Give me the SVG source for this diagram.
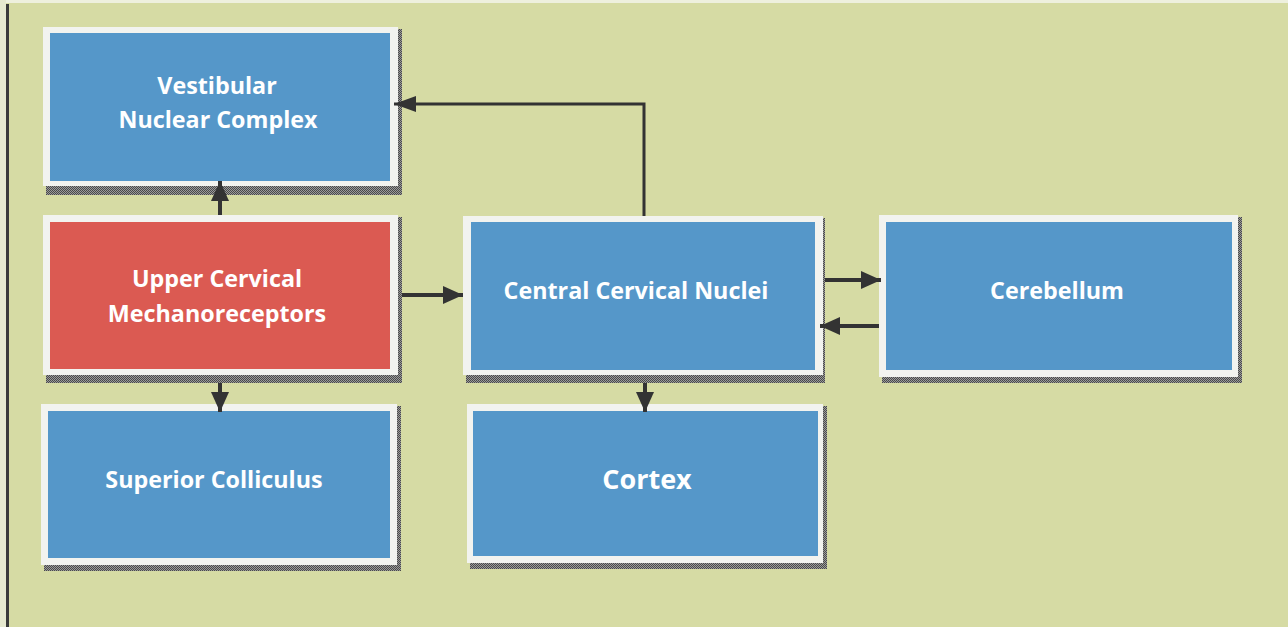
<svg xmlns="http://www.w3.org/2000/svg" width="1288" height="627" viewBox="0 0 1288 627">
<defs>
<style>
.bg{fill:#d6dba4}
.sh{fill:url(#hatch)}
.frame{fill:#f2f3ef}
.blue{fill:#5597c9}
.red{fill:#db5a52}
.lbl{font-family:"Open Sans","Noto Sans","Liberation Sans",sans-serif;font-weight:700;font-size:23.3px;fill:#ffffff;text-anchor:middle}
.big{font-size:27px}
.con{fill:none;stroke:#333333;stroke-width:4}
.thin{stroke-width:3}
</style>
<pattern id="hatch" width="2" height="2" patternUnits="userSpaceOnUse">
<rect width="2" height="2" fill="#9a9a9a"/>
<rect width="1" height="1" fill="#4a4a4a"/>
<rect x="1" y="1" width="1" height="1" fill="#4a4a4a"/>
</pattern>
<marker id="ah" markerUnits="userSpaceOnUse" markerWidth="20" markerHeight="18" refX="20" refY="9" orient="auto">
<path d="M0,0 L20,9 L0,18 Z" fill="#333333"/>
</marker>
<marker id="ahs" markerUnits="userSpaceOnUse" markerWidth="22" markerHeight="16" refX="22" refY="8" orient="auto">
<path d="M0,0 L22,8 L0,16 Z" fill="#333333"/>
</marker>
</defs>
<rect class="bg" x="0" y="0" width="1288" height="627"/>
<rect x="0" y="0" width="1288" height="3" fill="#eef0de"/>
<rect x="0" y="0" width="6" height="627" fill="#e6e9cf"/>
<rect x="6" y="4" width="3" height="623" fill="#3a3a3a"/>

<g id="vestibular">
<rect class="sh" x="46" y="29" width="356" height="166"/>
<rect class="frame" x="43" y="27" width="355" height="159"/>
<rect class="blue" x="50" y="33" width="340" height="148"/>
<text class="lbl" x="217" y="94">Vestibular</text>
<text class="lbl" x="218" y="128">Nuclear Complex</text>
</g>

<g id="upper-cervical">
<rect class="sh" x="46" y="217" width="356" height="166"/>
<rect class="frame" x="43" y="215" width="355" height="160"/>
<rect class="red" x="50" y="222" width="340" height="147"/>
<text class="lbl" x="217" y="287">Upper Cervical</text>
<text class="lbl" x="217" y="322">Mechanoreceptors</text>
</g>

<g id="superior-colliculus">
<rect class="sh" x="44" y="406" width="357" height="165"/>
<rect class="frame" x="41" y="404" width="356" height="161"/>
<rect class="blue" x="48" y="411" width="342" height="147"/>
<text class="lbl" x="214" y="488">Superior Colliculus</text>
</g>

<g id="central-cervical">
<rect class="sh" x="466" y="218" width="359" height="165"/>
<rect class="frame" x="463" y="216" width="360" height="159"/>
<rect class="blue" x="471" y="222" width="344" height="148"/>
<text class="lbl" x="636" y="299">Central Cervical Nuclei</text>
</g>

<g id="cerebellum">
<rect class="sh" x="882" y="217" width="360" height="166"/>
<rect class="frame" x="879" y="215" width="359" height="162"/>
<rect class="blue" x="886" y="222" width="346" height="148"/>
<text class="lbl" x="1057" y="299">Cerebellum</text>
</g>

<g id="cortex">
<rect class="sh" x="470" y="406" width="357" height="163"/>
<rect class="frame" x="467" y="404" width="356" height="159"/>
<rect class="blue" x="473" y="411" width="345" height="145"/>
<text class="lbl big" x="647" y="489">Cortex</text>
</g>

<g id="connectors">
<line class="con" x1="220" y1="215" x2="220" y2="181" marker-end="url(#ah)"/>
<line class="con" x1="220" y1="383" x2="220" y2="412" marker-end="url(#ah)"/>
<line class="con" x1="402" y1="295" x2="463" y2="295" marker-end="url(#ah)"/>
<path class="con thin" d="M644,216 V104 H394" marker-end="url(#ahs)"/>
<line class="con" x1="825" y1="280" x2="881" y2="280" marker-end="url(#ah)"/>
<line class="con" x1="879" y1="326" x2="820" y2="326" marker-end="url(#ah)"/>
<line class="con" x1="645" y1="383" x2="645" y2="412" marker-end="url(#ah)"/>
</g>
</svg>
